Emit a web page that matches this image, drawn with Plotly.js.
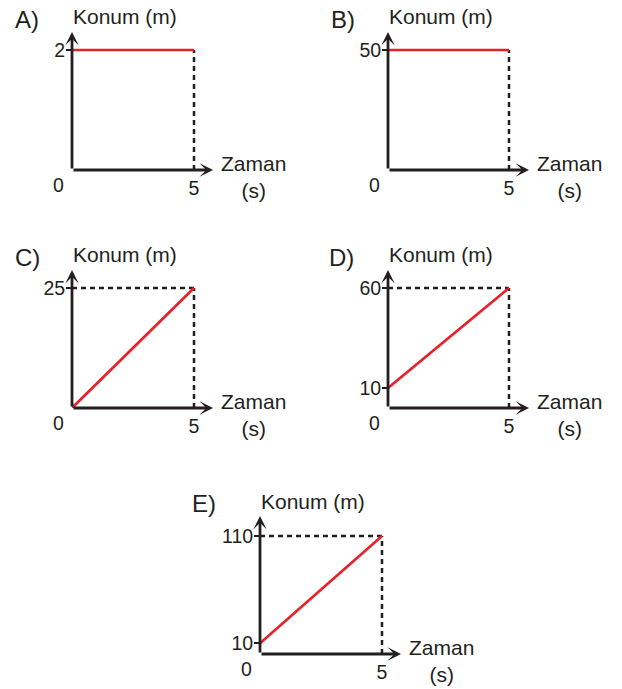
<!DOCTYPE html>
<html>
<head>
<meta charset="utf-8">
<script src="https://cdn.plot.ly/plotly-3.0.1.min.js"></script>
<style>
html,body{margin:0;padding:0;background:#fff;}
#chart{width:622px;height:689px;}
</style>
</head>
<body>
<div id="chart"></div>
<script>
// ---- data ----
const panelLabels = ['A)', 'B)', 'C)', 'D)', 'E)'];
const times = [0, 5];
const posA = [2, 2];
const posB = [50, 50];
const posC = [0, 25];
const posD = [10, 60];
const posE = [10, 110];
const yTitle = 'Konum (m)';
const xTitle = 'Zaman<br>(s)';
const originLabel = '0';

// ---- layout constants (pixels) ----
const W = 622, H = 689;
const INK = '#231f20', RED = '#e8202a';
const FONT = '"Liberation Sans", Arial, Helvetica, sans-serif';
const geo = [
  {ox: 72,  oy: 170, tick: 122, top: 120, lab: -45},
  {ox: 388, oy: 170, tick: 121, top: 120, lab: -45},
  {ox: 72,  oy: 408, tick: 122, top: 120, lab: -45},
  {ox: 388, oy: 408, tick: 121, top: 120, lab: -46},
  {ox: 260, oy: 654, tick: 122, top: 118, lab: -56}
];
const XLEN = 141, YLEN = 138;
const series = [posA, posB, posC, posD, posE];

const px = v => v / W;
const py = v => 1 - v / H;

const data = [];
const layout = {
  width: W, height: H,
  margin: {l: 0, r: 0, t: 0, b: 0},
  paper_bgcolor: '#fff', plot_bgcolor: 'rgba(0,0,0,0)',
  showlegend: false,
  font: {family: FONT, color: INK, size: 19},
  annotations: []
};

series.forEach((pos, i) => {
  const g = geo[i];
  const n = i === 0 ? '' : String(i + 1);
  const xa = 'x' + n, ya = 'y' + n;
  const tEnd = times[times.length - 1];
  const pEnd = pos[pos.length - 1];
  const yMaxVal = Math.max(...pos);
  const xMax = tEnd * XLEN / g.tick;
  const yMax = yMaxVal * YLEN / g.top;
  const yTicks = [...new Set(pos.filter(v => v !== 0))];

  layout['xaxis' + n] = {
    domain: [px(g.ox), px(g.ox + XLEN)],
    range: [0, xMax], anchor: ya,
    showgrid: false, zeroline: false, showline: false,
    tickvals: [tEnd], ticktext: [String(tEnd)], ticks: '',
    tickfont: {size: 19.5, color: INK, family: FONT},
    ticklabelstandoff: 4,
    fixedrange: true
  };
  layout['yaxis' + n] = {
    domain: [py(g.oy), py(g.oy - YLEN)],
    range: [0, yMax], anchor: xa,
    showgrid: false, zeroline: false, showline: false,
    tickvals: yTicks, ticktext: yTicks.map(String),
    ticks: 'outside', ticklen: 5, tickwidth: 2, tickcolor: INK,
    tickfont: {size: 19.5, color: INK, family: FONT},
    ticklabelstandoff: -3,
    fixedrange: true
  };

  // dashed guides
  if (pos[0] !== pEnd) {
    data.push({x: [0, tEnd], y: [pEnd, pEnd], xaxis: xa, yaxis: ya, mode: 'lines',
      line: {color: INK, width: 2.5, dash: '5px,4px'}, hoverinfo: 'skip', cliponaxis: false});
  }
  data.push({x: [tEnd, tEnd], y: [0, pEnd], xaxis: xa, yaxis: ya, mode: 'lines',
    line: {color: INK, width: 2.5, dash: '5px,4px'}, hoverinfo: 'skip', cliponaxis: false});
  // position line
  data.push({x: times, y: pos, xaxis: xa, yaxis: ya, mode: 'lines',
    line: {color: RED, width: 2.7}, hoverinfo: 'skip', cliponaxis: false});

  // axis arrows
  layout.annotations.push({xref: xa, yref: ya, axref: xa, ayref: ya,
    x: xMax, y: 0, ax: 0, ay: 0, text: '', showarrow: true,
    arrowhead: 3, arrowsize: 0.8, arrowwidth: 2.8, arrowcolor: INK, standoff: 0, startstandoff: 0});
  layout.annotations.push({xref: xa, yref: ya, axref: xa, ayref: ya,
    x: 0, y: yMax, ax: 0, ay: 0, text: '', showarrow: true,
    arrowhead: 3, arrowsize: 0.8, arrowwidth: 2.8, arrowcolor: INK, standoff: 0, startstandoff: 0});

  // texts
  layout.annotations.push({xref: 'paper', yref: 'paper', x: px(g.ox + g.lab), y: py(g.oy - 151),
    text: panelLabels[i], showarrow: false, xanchor: 'center', yanchor: 'middle',
    font: {size: 24, color: INK, family: FONT}});
  layout.annotations.push({xref: 'paper', yref: 'paper', x: px(g.ox - 1), y: py(g.oy - 153),
    text: yTitle, showarrow: false, xanchor: 'left', yanchor: 'middle',
    font: {size: 21, color: INK, family: FONT}});
  layout.annotations.push({xref: 'paper', yref: 'paper', x: px(g.ox + 181), y: py(g.oy + 7),
    text: xTitle, showarrow: false, xanchor: 'center', yanchor: 'middle',
    font: {size: 21, color: INK, family: FONT}});
  layout.annotations.push({xref: 'paper', yref: 'paper', x: px(g.ox - 14), y: py(g.oy + 15),
    text: originLabel, showarrow: false, xanchor: 'center', yanchor: 'middle',
    font: {size: 19.5, color: INK, family: FONT}});
});

Plotly.newPlot('chart', data, layout, {displayModeBar: false, staticPlot: true});
</script>
</body>
</html>
